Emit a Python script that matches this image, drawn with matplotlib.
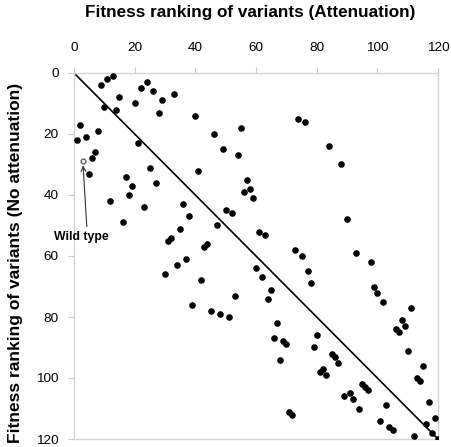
import matplotlib
matplotlib.use('Agg')
import matplotlib.pyplot as plt

plt.rcParams['font.family'] = ['Liberation Sans', 'DejaVu Sans']

# Ranking with attenuation (x) vs without attenuation (y)
x_rank = [13, 11, 9, 24, 22, 26, 33, 15, 29, 20, 10, 14, 28, 2, 8, 1, 4, 21, 7, 6,
          5, 25, 17, 19, 27, 40, 74, 76, 55, 46, 49, 54, 41, 57, 58, 56, 59, 36, 38, 50,
          52, 47, 35, 32, 31, 61, 63, 44, 43, 37, 34, 73, 75, 77, 78, 60, 62, 42, 65, 64,
          53, 39, 45, 48, 51, 12, 18, 23, 16, 30, 84, 88, 90, 93, 98, 99, 100, 102, 111, 67,
          66, 69, 70, 68, 80, 79, 85, 86, 87, 82, 81, 83, 108, 109, 106, 107, 110, 115, 113, 114,
          117, 119, 116, 118, 120, 112, 103, 101, 104, 105, 95, 96, 97, 91, 89, 92, 94, 71, 72]
y_rank = [1, 2, 4, 3, 5, 6, 7, 8, 9, 10, 11, 12, 13, 17, 19, 22, 21, 23, 26, 28,
          33, 31, 34, 37, 36, 14, 15, 16, 18, 20, 25, 27, 32, 35, 38, 39, 41, 43, 47, 45,
          46, 50, 51, 54, 55, 52, 53, 56, 57, 61, 63, 58, 60, 65, 69, 64, 67, 68, 71, 74,
          73, 76, 78, 79, 80, 42, 40, 44, 49, 66, 24, 30, 48, 59, 62, 70, 72, 75, 77, 82,
          87, 88, 89, 94, 86, 90, 92, 93, 95, 97, 98, 99, 81, 83, 84, 85, 91, 96, 100, 101,
          108, 113, 115, 118, 120, 119, 109, 114, 116, 117, 102, 103, 104, 105, 106, 107, 110, 111, 112]

wild_x = [3]
wild_y = [29]

ticks = [0, 20, 40, 60, 80, 100, 120]

fig = plt.figure(figsize=(4.52, 4.47), dpi=100)
ax = fig.add_axes([74 / 452, 1 - 439 / 447, 364 / 452, 366 / 447])

ax.plot([0, 120], [0, 120], color='black', lw=1.2, zorder=2)
ax.scatter(x_rank, y_rank, s=14, color='black', zorder=3)
ax.scatter(wild_x, wild_y, s=12, facecolor='#f0f0f0', edgecolor='#555555', lw=0.9, zorder=3)

ax.annotate('Wild type', xy=(wild_x[0], wild_y[0] + 1.3), xytext=(2.5, 53.7),
            ha='center', va='center', fontsize=8.8, fontweight='bold',
            annotation_clip=False,
            arrowprops=dict(arrowstyle='->', color='#333333', lw=0.8,
                            relpos=(0.6, 1.0), shrinkA=1, shrinkB=0))

ax.set_xlim(0, 120)
ax.set_ylim(120, 0)
ax.set_xticks(ticks)
ax.set_yticks(ticks)
ax.xaxis.tick_top()
ax.tick_params(axis='x', direction='out', length=4, color='#c8c8c8', pad=9.5, labelsize=9.7)
ax.tick_params(axis='y', direction='out', length=4, color='#c8c8c8', pad=7, labelsize=9.7)
for sp in ax.spines.values():
    sp.set_color('#d4d4d4')
    sp.set_linewidth(1.0)

fig.text(250 / 452, 1 - 12 / 447, 'Fitness ranking of variants (Attenuation)',
         ha='center', va='center', fontsize=12.3, fontweight='bold')
fig.text(16 / 452, 1 - 263 / 447, 'Fitness ranking of variants (No attenuation)',
         ha='center', va='center', rotation=90, fontsize=12.5, fontweight='bold')

fig.savefig('out.png', dpi=100)
